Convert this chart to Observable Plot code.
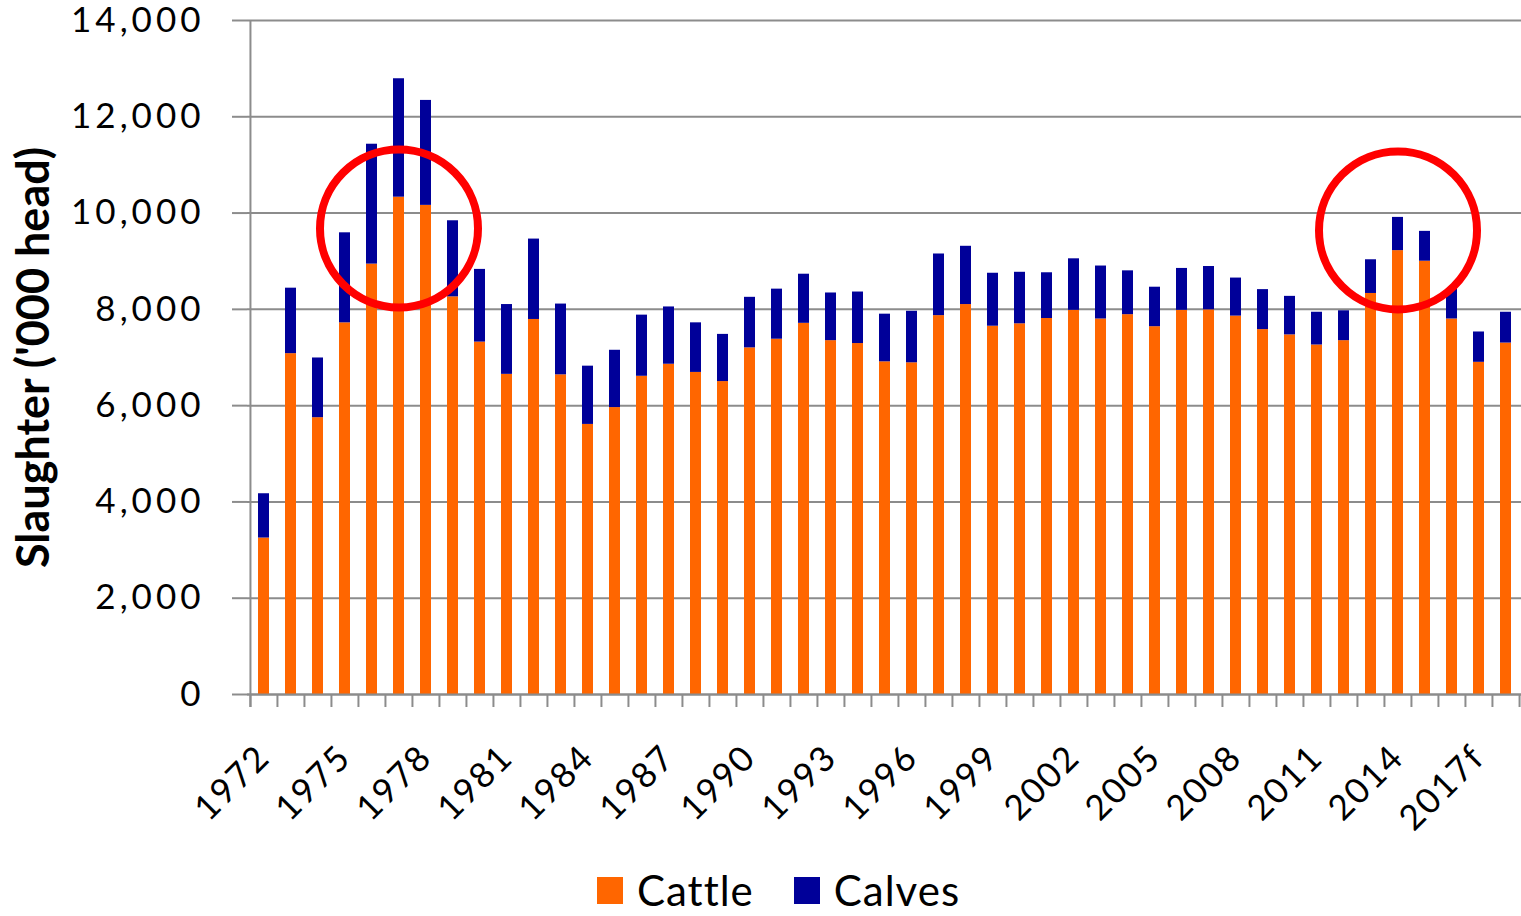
<!DOCTYPE html>
<html><head><meta charset="utf-8">
<script src="https://cdn.jsdelivr.net/npm/d3@7"></script>
<script src="https://cdn.jsdelivr.net/npm/@observablehq/plot@0.6"></script>
<style>
body{margin:0;background:#fff;font-family:Lato,sans-serif;}
#legend{display:flex;justify-content:center;align-items:center;font-size:42px;margin-left:36px;height:60px;color:#000;letter-spacing:1px;}
.sw{display:inline-block;width:26px;height:27px;margin-right:14px;}
.item{display:flex;align-items:center;margin:0 20px;}
svg [aria-label="y-axis tick label"] text{letter-spacing:4px;}
svg [aria-label="x-axis tick label"] text{letter-spacing:2px;}
</style></head><body><div id="chart"></div><div id="legend"></div><script>
const years = ["1972","1973","1974","1975","1976","1977","1978","1979","1980","1981","1982","1983","1984","1985","1986","1987","1988","1989","1990","1991","1992","1993","1994","1995","1996","1997","1998","1999","2000","2001","2002","2003","2004","2005","2006","2007","2008","2009","2010","2011","2012","2013","2014","2015","2016","2017f","2018f"];
const cattle = [3250,7080,5750,7720,8940,10330,10160,8260,7320,6650,7790,6640,5610,5960,6610,6860,6690,6500,7200,7380,7710,7350,7290,6910,6890,7870,8100,7650,7700,7810,7980,7800,7890,7640,7980,7990,7860,7580,7470,7260,7350,8330,9220,9000,7800,6900,7300];
const calves = [920,1360,1240,1870,2490,2460,2180,1580,1510,1450,1670,1470,1210,1190,1270,1190,1030,980,1050,1040,1020,990,1070,990,1070,1280,1210,1100,1070,950,1070,1100,910,820,870,900,790,830,800,680,620,700,690,620,630,630,640];
const tickYears = years.filter((d, i) => i % 3 === 0);
const yTicks = [0, 2000, 4000, 6000, 8000, 10000, 12000, 14000];
const seriesNames = ["Cattle", "Calves"];
const seriesColors = ["#FF6600", "#000099"];
const highlightYears = ["1977", "2014"];
const highlightValues = [9680, 9640];

const rows = years.flatMap((y, i) => [
  {year: y, series: "Cattle", value: cattle[i]},
  {year: y, series: "Calves", value: calves[i]}
]);
const highlights = highlightYears.map((y, i) => ({year: y, value: highlightValues[i]}));

const W = 1521, ML = 247, MR = 0;
const half = (W - ML - MR) / years.length / 2;
const gray = "#8c8c8c";

const chart = Plot.plot({
  width: W, height: 860,
  marginLeft: ML, marginRight: MR, marginTop: 20, marginBottom: 166,
  style: {fontFamily: "Lato, sans-serif", fontSize: "35px", background: "white", color: "black", overflow: "visible"},
  x: {domain: years, paddingInner: 0.6, paddingOuter: 0.3},
  y: {domain: [0, 14000]},
  color: {domain: seriesNames, range: seriesColors},
  marks: [
    Plot.gridY(yTicks, {stroke: gray, strokeOpacity: 1, strokeWidth: 2}),
    Plot.barY(rows, {x: "year", y: "value", fill: "series"}),
    Plot.ruleX(years, {x: d => d, y1: 0, y2: 0, insetBottom: -13, dx: -half, stroke: gray, strokeWidth: 2}),
    Plot.ruleX([years[years.length - 1]], {x: d => d, y1: 0, y2: 0, insetBottom: -13, dx: half, stroke: gray, strokeWidth: 2}),
    Plot.ruleX([years[0]], {x: d => d, y1: 14000, y2: 0, insetBottom: -13, dx: -half, stroke: gray, strokeWidth: 2}),
    Plot.ruleY([0], {stroke: gray, strokeWidth: 2}),
    Plot.axisY({ticks: yTicks, tickSize: 15, tickPadding: 28, tickFormat: d3.format(","), stroke: gray, strokeWidth: 2, label: null}),
    Plot.axisX({ticks: tickYears, tickSize: 0, tickPadding: 57, tickRotate: -45, label: null}),
    Plot.text(["Slaughter ('000 head)"], {frameAnchor: "left", textAnchor: "middle", rotate: -90, dx: -213, fontWeight: "bold", fontSize: 45}),
    Plot.dot(highlights, {x: "year", y: "value", r: 79, stroke: "#FF0000", strokeWidth: 8, fill: "none"})
  ]
});
document.getElementById("chart").append(chart);

const legend = document.getElementById("legend");
seriesNames.forEach((name, i) => {
  const item = document.createElement("div");
  item.className = "item";
  const sw = document.createElement("span");
  sw.className = "sw";
  sw.style.background = seriesColors[i];
  item.append(sw, document.createTextNode(name));
  legend.append(item);
});
</script></body></html>
